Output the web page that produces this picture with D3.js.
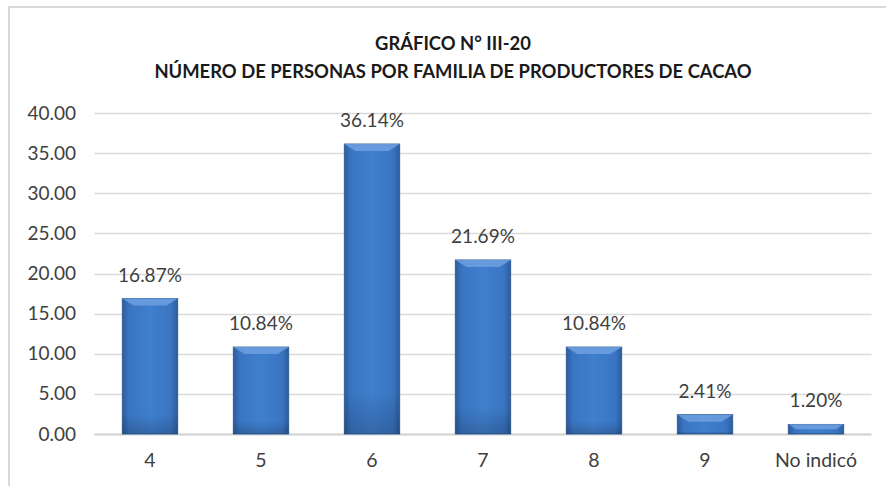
<!DOCTYPE html>
<html><head><meta charset="utf-8">
<script src="https://cdn.jsdelivr.net/npm/d3@7"></script>
<style>body{margin:0;background:#fff}svg{display:block}text{font-family:Lato,"Open Sans",sans-serif}</style>
</head><body>
<svg id="c" width="888" height="486"></svg>
<script>
const categories = ["4","5","6","7","8","9","No indicó"];
const values = [16.87, 10.84, 36.14, 21.69, 10.84, 2.41, 1.20];
const yTicks = [0,5,10,15,20,25,30,35,40];
const titleLines = ["GRÁFICO N° III-20","NÚMERO DE PERSONAS POR FAMILIA DE PRODUCTORES DE CACAO"];

const svg = d3.select("#c");
const W=888,H=486;
const m={left:94.5,right:16.5,top:113,bottom:52};
const x=d3.scaleBand().domain(categories).range([m.left,W-m.right]).paddingInner(0.5).paddingOuter(0.25);
const y=d3.scaleLinear().domain([0,40]).range([434,113]);

// frame
svg.append("path").attr("d","M9,486 V7 H886").attr("fill","none").attr("stroke","#d9d9d9").attr("stroke-width",2);

// title
svg.append("g").selectAll("text").data(titleLines).join("text")
 .attr("x",453).attr("y",(d,i)=>50+i*28).attr("text-anchor","middle")
 .attr("font-weight","bold").attr("font-size",18.4).attr("fill","#1a1a1a").text(d=>d);

// grid
const grid=svg.append("g");
grid.selectAll("line").data(yTicks).join("line")
 .attr("x1",m.left).attr("x2",W-m.right).attr("y1",d=>Math.round(y(d))+0.5).attr("y2",d=>Math.round(y(d))+0.5)
 .attr("stroke",d=>d===0?"#d0d0d0":"#d9d9d9").attr("stroke-width",d=>d===0?2:1.5);

// y axis labels
const yAxis=d3.axisLeft(y).tickValues(yTicks).tickFormat(d3.format(".2f")).tickSize(0).tickPadding(0);
const ya=svg.append("g").attr("transform","translate(76,0)").call(yAxis);
ya.select(".domain").remove();
ya.selectAll("text").attr("font-size",19).attr("fill","#404040").attr("font-family","Lato,'Open Sans',sans-serif");

// x axis labels
const xAxis=d3.axisBottom(x).tickSize(0).tickPadding(0);
const xa=svg.append("g").attr("transform","translate(0,453)").call(xAxis);
xa.select(".domain").remove();
xa.selectAll("text").attr("font-size",19.5).attr("fill","#404040").attr("font-family","Lato,'Open Sans',sans-serif");

// gradients
const defs=svg.append("defs");
const g=defs.append("linearGradient").attr("id","bg").attr("x1",0).attr("x2",1).attr("y1",0).attr("y2",0);
g.append("stop").attr("offset",0).attr("stop-color","#2b5c9c");
g.append("stop").attr("offset",0.12).attr("stop-color","#3a75c2");
g.append("stop").attr("offset",0.5).attr("stop-color","#3f7fcd");
g.append("stop").attr("offset",0.88).attr("stop-color","#3a75c2");
g.append("stop").attr("offset",1).attr("stop-color","#2b5c9c");
const gv=defs.append("linearGradient").attr("id","bv").attr("x1",0).attr("x2",0).attr("y1",0).attr("y2",1);
gv.append("stop").attr("offset",0).attr("stop-color","#000").attr("stop-opacity",0);
gv.append("stop").attr("offset",0.85).attr("stop-color","#000").attr("stop-opacity",0);
gv.append("stop").attr("offset",1).attr("stop-color","#000").attr("stop-opacity",0.18);

const bw=x.bandwidth();
const bars=svg.append("g").selectAll("g").data(categories.map((c,i)=>({c,v:values[i]}))).join("g");
bars.append("rect").attr("x",d=>x(d.c)).attr("y",d=>y(d.v)).attr("width",bw).attr("height",d=>y(0)-y(d.v))
 .attr("fill","url(#bg)").attr("stroke","#2a568f").attr("stroke-width",0.8);
bars.append("rect").attr("x",d=>x(d.c)).attr("y",d=>y(d.v)).attr("width",bw).attr("height",d=>y(0)-y(d.v))
 .attr("fill","url(#bv)");
// top bevel
bars.append("path").attr("d",d=>{
  const x0=x(d.c),x1=x0+bw,t=y(d.v),h=Math.min(7,(y(0)-y(d.v))/2);
  return `M${x0},${t} L${x1},${t} L${x1-h*1.6},${t+h} L${x0+h*1.6},${t+h} Z`;
}).attr("fill","#6ea0e0").attr("opacity",0.85);

// value labels
svg.append("g").selectAll("text").data(categories.map((c,i)=>({c,v:values[i]}))).join("text")
 .attr("x",d=>x(d.c)+bw/2).attr("y",d=>y(d.v)-17).attr("text-anchor","middle")
 .attr("font-size",19).attr("fill","#404040").text(d=>d3.format(".2f")(d.v)+"%");
</script>
</body></html>
